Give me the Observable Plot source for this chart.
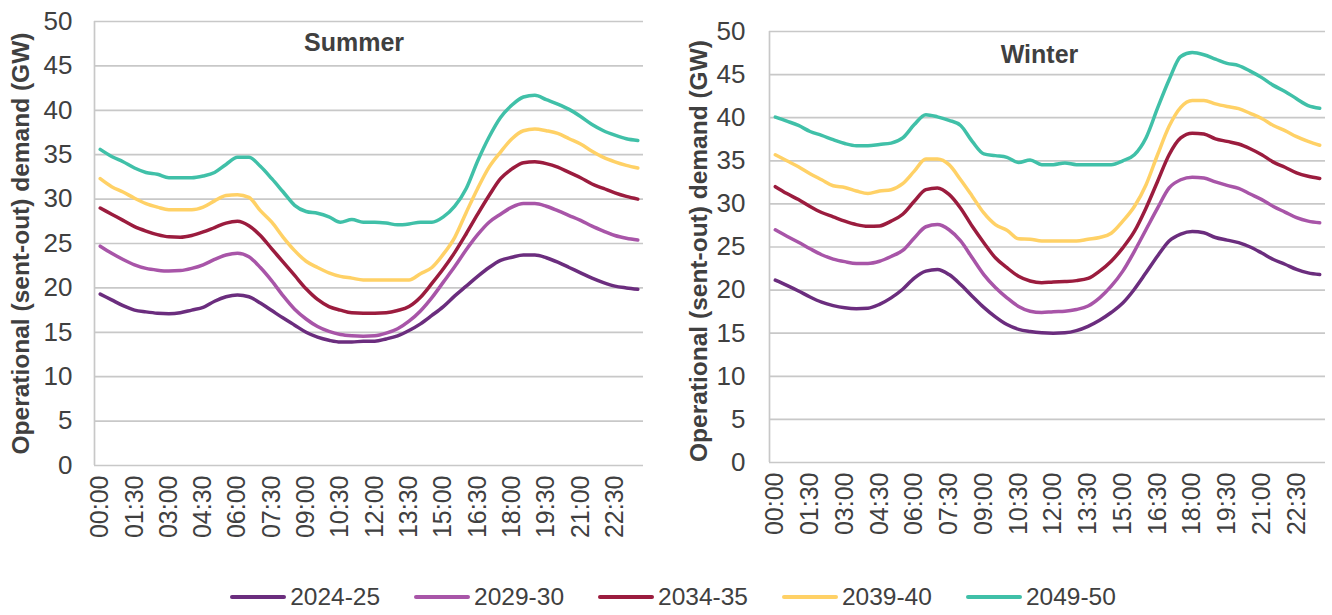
<!DOCTYPE html>
<html><head><meta charset="utf-8">
<script src="https://cdn.jsdelivr.net/npm/d3@7"></script>
<script src="https://cdn.jsdelivr.net/npm/@observablehq/plot@0.6"></script>
<style>
body{margin:0;background:#fff;font-family:"Liberation Sans",Arial,sans-serif;}
#wrap{width:1332px;height:615px;position:relative;overflow:hidden;background:#fff}
#charts{display:flex;position:absolute;left:0;top:0}
#legend{position:absolute;left:0;top:580px;width:1332px;height:34px;display:flex;justify-content:center;align-items:center;padding-left:14px;box-sizing:border-box;color:#404040;font-size:24.5px}
.item{display:flex;align-items:center;margin:0 17px}
.sw{width:56px;height:4px;border-radius:2px;margin-right:4px}
</style></head><body>
<div id="wrap"><div id="charts"></div><div id="legend"></div></div>
<script>
const times = ["00:00","00:30","01:00","01:30","02:00","02:30","03:00","03:30","04:00","04:30","05:00","05:30",
"06:00","06:30","07:00","07:30","08:00","08:30","09:00","09:30","10:00","10:30","11:00","11:30",
"12:00","12:30","13:00","13:30","14:00","14:30","15:00","15:30","16:00","16:30","17:00","17:30",
"18:00","18:30","19:00","19:30","20:00","20:30","21:00","21:30","22:00","22:30","23:00","23:30"];
const xTickLabels = ["00:00","01:30","03:00","04:30","06:00","07:30","09:00","10:30","12:00","13:30","15:00","16:30","18:00","19:30","21:00","22:30"];
const yTickValues = [0,5,10,15,20,25,30,35,40,45,50];
const seriesNames = ["2024-25","2029-30","2034-35","2039-40","2049-50"];
const seriesColors = ["#6B2D7E","#A855A8","#9B1C3E","#FFD166","#40C0A8"];

const summer2024 = [19.3,18.65,18.0,17.5,17.3,17.15,17.1,17.2,17.5,17.8,18.5,19.0,19.2,19.0,18.3,17.45,16.6,15.8,15.0,14.45,14.1,13.9,13.9,14.0,14.0,14.25,14.6,15.2,15.95,16.9,17.9,19.1,20.2,21.3,22.3,23.1,23.45,23.7,23.7,23.4,22.9,22.3,21.7,21.1,20.6,20.2,20.0,19.85];
const summer2029 = [24.7,23.9,23.2,22.6,22.2,22.0,21.9,21.95,22.2,22.6,23.2,23.7,23.9,23.5,22.3,20.8,19.1,17.6,16.5,15.65,15.1,14.75,14.6,14.55,14.6,14.9,15.4,16.25,17.4,18.9,20.65,22.4,24.3,26.0,27.4,28.3,29.1,29.5,29.5,29.2,28.7,28.15,27.6,26.95,26.4,25.9,25.6,25.4];
const summer2034 = [29.0,28.3,27.6,26.9,26.4,26.0,25.75,25.7,25.9,26.3,26.8,27.3,27.5,27.0,25.9,24.4,22.9,21.4,19.9,18.7,17.9,17.5,17.2,17.15,17.15,17.2,17.45,17.9,18.95,20.5,22.15,24.0,26.1,28.3,30.4,32.3,33.4,34.1,34.2,34.0,33.6,33.0,32.4,31.7,31.2,30.7,30.3,30.0];
const summer2039 = [32.3,31.4,30.8,30.1,29.5,29.1,28.8,28.8,28.8,29.1,29.8,30.4,30.5,30.2,28.7,27.4,25.7,24.2,23.0,22.3,21.7,21.3,21.1,20.9,20.9,20.9,20.9,20.9,21.6,22.3,23.8,25.7,28.5,31.2,33.6,35.3,36.8,37.7,37.9,37.7,37.4,36.8,36.2,35.4,34.7,34.2,33.8,33.5];
const summer2049 = [35.6,34.8,34.2,33.5,33.0,32.8,32.4,32.4,32.4,32.6,33.0,33.9,34.7,34.7,33.7,32.3,30.8,29.3,28.6,28.4,28.0,27.4,27.7,27.4,27.4,27.3,27.1,27.2,27.4,27.4,28.0,29.2,31.2,34.3,37.0,39.2,40.6,41.5,41.7,41.2,40.7,40.1,39.3,38.4,37.7,37.2,36.8,36.6];

const winter2024 = [21.15,20.55,19.9,19.2,18.6,18.2,17.95,17.85,17.9,18.35,19.1,20.1,21.4,22.2,22.4,21.8,20.65,19.3,18.0,16.9,16.0,15.45,15.2,15.05,15.0,15.05,15.3,15.8,16.5,17.4,18.5,20.1,22.0,23.95,25.7,26.5,26.8,26.65,26.1,25.8,25.5,25.0,24.3,23.55,23.0,22.4,22.0,21.8];
const winter2029 = [27.0,26.25,25.55,24.8,24.1,23.6,23.3,23.1,23.1,23.35,23.9,24.6,26.05,27.35,27.6,27.0,25.7,23.75,21.8,20.3,19.1,18.1,17.55,17.4,17.5,17.55,17.75,18.15,19.1,20.45,22.2,24.5,27.0,29.5,31.85,32.8,33.1,33.0,32.55,32.15,31.8,31.15,30.5,29.7,29.05,28.4,28.0,27.8];
const winter2034 = [32.0,31.2,30.5,29.7,29.0,28.5,28.0,27.6,27.4,27.45,28.0,28.8,30.3,31.65,31.85,31.1,29.5,27.4,25.5,23.75,22.6,21.6,21.05,20.85,20.95,21.0,21.1,21.35,22.2,23.35,24.9,26.8,29.5,32.6,35.7,37.65,38.2,38.1,37.55,37.25,36.95,36.4,35.7,34.85,34.25,33.6,33.2,32.95];
const winter2039 = [35.7,35.0,34.3,33.5,32.8,32.1,31.9,31.5,31.2,31.5,31.65,32.35,33.8,35.2,35.2,34.55,32.8,30.9,28.95,27.6,26.95,25.95,25.9,25.7,25.7,25.7,25.7,25.9,26.1,26.6,28.0,29.7,32.2,35.7,39.0,41.2,42.0,42.0,41.6,41.3,41.05,40.5,39.9,39.1,38.5,37.8,37.25,36.8];
const winter2049 = [40.07,39.6,39.1,38.4,37.95,37.45,37.0,36.75,36.75,36.9,37.05,37.65,39.2,40.35,40.1,39.7,39.1,37.25,35.8,35.6,35.4,34.8,35.1,34.55,34.55,34.75,34.55,34.55,34.55,34.55,35.0,35.7,37.65,41.1,44.4,47.1,47.55,47.3,46.8,46.3,46.05,45.4,44.65,43.75,43.05,42.2,41.4,41.1];

const yTitle = "Operational (sent-out) demand (GW)";

function toRows(arrays) {
  const rows = [];
  arrays.forEach((arr, s) => arr.forEach((v, i) => rows.push({series: seriesNames[s], time: times[i], value: v})));
  return rows;
}

function panel(title, rows, o) {
  const H = 570;
  return Plot.plot({
    width: 666, height: H,
    marginLeft: o.ml, marginRight: o.mr, marginTop: o.mt, marginBottom: H - o.bottom,
    style: {fontFamily: "'Liberation Sans', Arial, sans-serif", color: "#404040", background: "transparent", overflow: "visible"},
    x: {type: "point", domain: times, padding: 0.5, round: false},
    y: {domain: [0, 50]},
    color: {domain: seriesNames, range: seriesColors},
    marks: [
      Plot.ruleY(yTickValues, {stroke: "#c8c8c8", strokeWidth: 1.7}),
      Plot.axisY({ticks: yTickValues, tickSize: 0, tickPadding: o.tp, fontSize: 26, label: null, fill: "#404040"}),
      Plot.axisX({ticks: xTickLabels, tickSize: 0, tickRotate: -90, tickPadding: 10, fontSize: 25, label: null, fill: "#404040"}),
      Plot.ruleX([0], {x: () => times[0], dx: -o.halfStep, stroke: "#c8c8c8", strokeWidth: 1.7}),
      Plot.line(rows, {x: "time", y: "value", stroke: "series", strokeWidth: 3.5, curve: "monotone-x"}),
      Plot.text([title], {frameAnchor: "top", dx: o.tdx, dy: o.tdy, fontSize: 25, fontWeight: "bold", fill: "#404040"}),
      Plot.text([yTitle], {frameAnchor: "left", textAnchor: "middle", dx: o.ydx, dy: o.ydy, rotate: -90, fontSize: 24.5, fontWeight: "bold", fill: "#404040"})
    ]
  });
}

const charts = document.getElementById("charts");
charts.appendChild(panel("Summer", toRows([summer2024, summer2029, summer2034, summer2039, summer2049]),
  {ml: 94, mr: 23, mt: 21, bottom: 465, tp: 22, halfStep: 549/96, tdx: -15, tdy: 12, ydx: -73, ydy: 0}));
charts.appendChild(panel("Winter", toRows([winter2024, winter2029, winter2034, winter2039, winter2049]),
  {ml: 103, mr: 7, mt: 31, bottom: 462, tp: 24, halfStep: 556/96, tdx: -8, tdy: 14, ydx: -70, ydy: 4}));

const legend = document.getElementById("legend");
seriesNames.forEach((n, i) => {
  const it = document.createElement("div"); it.className = "item";
  const sw = document.createElement("div"); sw.className = "sw"; sw.style.background = seriesColors[i];
  const tx = document.createElement("span"); tx.textContent = n;
  it.appendChild(sw); it.appendChild(tx); legend.appendChild(it);
});
</script>
</body></html>
